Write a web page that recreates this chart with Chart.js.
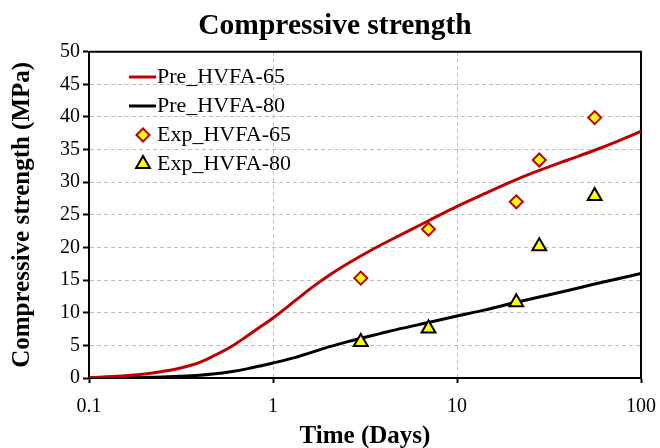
<!DOCTYPE html>
<html><head><meta charset="utf-8">
<script src="https://cdn.jsdelivr.net/npm/chart.js@4.4.0/dist/chart.umd.min.js"></script>
<style>html,body{margin:0;padding:0;background:#fff}</style>
</head><body>
<canvas id="c" width="660" height="448"></canvas>
<script>
// ---- data ----
const predDays   = [0.1,0.15,0.2,0.25,0.31,0.4,0.47,0.6,0.72,0.85,1,1.34,1.65,2.03,2.5,3,3.81,5,7,10,14,21,28,40,56,75,100];
const preHVFA65  = [0.05,0.3,0.6,1.0,1.5,2.4,3.3,4.9,6.4,7.8,9.2,12.0,14.0,15.8,17.4,18.7,20.3,22.0,24.1,26.3,28.2,30.4,31.8,33.4,34.9,36.3,37.8];
const preHVFA80  = [0.0,0.03,0.08,0.15,0.25,0.42,0.6,1.0,1.4,1.85,2.3,3.2,4.0,4.8,5.5,6.1,6.8,7.6,8.5,9.5,10.4,11.6,12.4,13.4,14.4,15.2,16.0];
const expDays    = [3,7,21,28,56];
const expHVFA65  = [15.3,22.8,27.0,33.4,39.9];
const expHVFA80  = [5.5,7.6,11.6,20.2,27.9];
const xTickVals  = [0.1,1,10,100];
const yMin = 0, yMax = 50, yStep = 5;
const seriesNames = ['Pre_HVFA-65','Pre_HVFA-80','Exp_HVFA-65','Exp_HVFA-80'];

const RED = '#C00000', BLACK = '#000000', YEL = '#FFFF00', GRID = '#BFBFBF';
const SERIF = "'Liberation Serif','Times New Roman',serif";
Chart.defaults.font.family = SERIF;
Chart.defaults.color = '#000';

const zip = (xs, ys) => xs.map((x, i) => ({x: x, y: ys[i]}));

const frame = {
  id: 'frame',
  beforeDatasetsDraw(chart) {
    const {ctx, chartArea: a} = chart;
    ctx.save();
    ctx.strokeStyle = '#000'; ctx.lineWidth = 2;
    ctx.beginPath();
    ctx.moveTo(a.left, a.top); ctx.lineTo(a.right, a.top); ctx.lineTo(a.right, a.bottom);
    ctx.stroke();
    ctx.restore();
  }
};

const customLegend = {
  id: 'customLegend',
  afterDraw(chart) {
    const ctx = chart.ctx;
    const ds = chart.data.datasets;
    const rows = [77, 106, 135, 164];
    const lineX0 = 129, lineX1 = 156, textX = 157, markX = 143;
    ctx.save();
    ctx.font = "22px " + SERIF;
    ctx.textBaseline = 'middle';
    ds.forEach((d, i) => {
      const y = rows[i];
      if (d.showLine) {
        ctx.strokeStyle = d.borderColor; ctx.lineWidth = 3;
        ctx.beginPath(); ctx.moveTo(lineX0, y); ctx.lineTo(lineX1, y); ctx.stroke();
      } else {
        ctx.fillStyle = d.backgroundColor; ctx.strokeStyle = d.borderColor; ctx.lineWidth = d.borderWidth;
        ctx.beginPath();
        const r = d.pointRadius;
        if (d.pointStyle === 'rectRot') {
          ctx.moveTo(markX - r, y); ctx.lineTo(markX, y - r); ctx.lineTo(markX + r, y); ctx.lineTo(markX, y + r);
        } else {
          ctx.moveTo(markX, y - r); ctx.lineTo(markX + r * 0.866, y + r / 2); ctx.lineTo(markX - r * 0.866, y + r / 2);
        }
        ctx.closePath(); ctx.fill(); ctx.stroke();
      }
      ctx.fillStyle = '#000';
      ctx.fillText(d.label, textX, y);
    });
    ctx.restore();
  }
};

new Chart(document.getElementById('c'), {
  type: 'scatter',
  data: {
    datasets: [
      {label: seriesNames[0], data: zip(predDays, preHVFA65), showLine: true, borderColor: RED, borderWidth: 3,
       pointRadius: 0, cubicInterpolationMode: 'monotone', order: 2},
      {label: seriesNames[1], data: zip(predDays, preHVFA80), showLine: true, borderColor: BLACK, borderWidth: 3,
       pointRadius: 0, cubicInterpolationMode: 'monotone', order: 3},
      {label: seriesNames[2], data: zip(expDays, expHVFA65), showLine: false, pointStyle: 'rectRot', pointRadius: 6.5,
       backgroundColor: YEL, borderColor: RED, borderWidth: 2, order: 0},
      {label: seriesNames[3], data: zip(expDays, expHVFA80), showLine: false, pointStyle: 'triangle', pointRadius: 8,
       backgroundColor: YEL, borderColor: BLACK, borderWidth: 2, order: 1}
    ]
  },
  options: {
    responsive: false,
    animation: false,
    devicePixelRatio: 1,
    layout: {padding: {left: 10, right: 0, top: 0, bottom: 0}},
    plugins: {
      legend: {display: false},
      tooltip: {enabled: false},
      title: {display: true, text: 'Compressive strength', color: '#000',
              font: {family: SERIF, size: 29.5, weight: 'bold', lineHeight: 1.2}, padding: {top: 9, bottom: 7.3}}
    },
    scales: {
      x: {
        type: 'logarithmic', min: xTickVals[0], max: xTickVals[xTickVals.length - 1],
        afterBuildTicks: (s) => { s.ticks = xTickVals.map(v => ({value: v})); },
        afterFit: (s) => { s.height = 70; s.paddingLeft = 0; s.paddingRight = 19; },
        ticks: {callback: (v) => String(v), font: {size: 20}, color: '#000', padding: 12, maxRotation: 0, autoSkip: false},
        grid: {
          color: (c) => (c.tick && (c.tick.value === 1 || c.tick.value === 10)) ? GRID : 'rgba(0,0,0,0)',
          tickColor: '#000', tickLength: 5, lineWidth: 1, tickWidth: 2
        },
        border: {color: '#000', width: 2, dash: [4, 3]},
        title: {display: true, text: 'Time (Days)', color: '#000', font: {size: 25, weight: 'bold', lineHeight: 0.9}, padding: {top: 0, bottom: 0}}
      },
      y: {
        min: yMin, max: yMax,
        afterFit: (s) => { s.width = 79; },
        ticks: {stepSize: yStep, font: {size: 20}, color: '#000', padding: 3},
        grid: {
          color: (c) => (c.tick && c.tick.value > yMin && c.tick.value < yMax) ? GRID : 'rgba(0,0,0,0)',
          tickColor: '#000', tickLength: 6, lineWidth: 1, tickWidth: 2
        },
        border: {color: '#000', width: 2, dash: [4, 3]},
        title: {display: true, text: 'Compressive strength (MPa)', color: '#000', font: {size: 25, weight: 'bold', lineHeight: 1.0}, padding: {top: 0, bottom: 0}}
      }
    }
  },
  plugins: [frame, customLegend]
});
</script>
</body></html>
